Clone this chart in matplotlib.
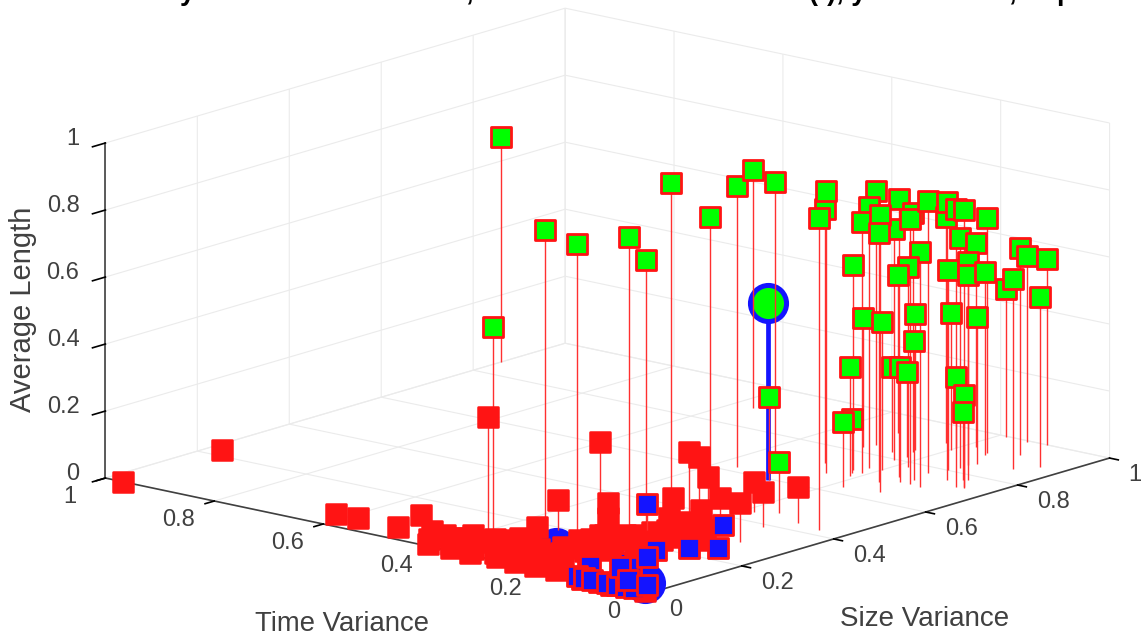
import numpy as np
import matplotlib
matplotlib.use('Agg')
import matplotlib.pyplot as plt
from matplotlib.markers import MarkerStyle

# tall points: size variance, time variance, average length
green_size = [0.860, 0.155, 0.141, 0.209, 0.246, 0.356, 0.456, 0.622, 0.891, 0.644, 0.595, 0.462, 0.107,
              0.719, 0.677, 0.425, 0.715, 0.843, 0.738, 0.710, 0.796, 0.726, 0.847, 0.645, 0.687, 0.706,
              0.770, 0.703, 0.778, 0.915, 0.823, 0.741, 0.857, 0.727, 0.687, 0.828, 0.706, 0.821, 0.701,
              0.633, 0.916, 0.757, 0.735, 0.738, 0.909, 0.821, 0.926, 0.801, 0.842, 0.777, 0.900, 0.996,
              0.865, 0.931, 0.994, 0.999, 0.898, 0.890, 0.853, 0.903, 0.743, 0.772]
green_time = [0.999, 0.323, 0.253, 0.215, 0.215, 0.261, 0.274, 0.365, 0.563, 0.314, 0.284, 0.153, 0.379,
              0.286, 0.248, 0.049, 0.230, 0.297, 0.221, 0.210, 0.223, 0.156, 0.232, 0.121, 0.159, 0.119,
              0.139, 0.097, 0.182, 0.316, 0.304, 0.199, 0.237, 0.129, 0.212, 0.255, 0.136, 0.220, 0.220,
              0.179, 0.229, 0.094, 0.059, 0.046, 0.149, 0.124, 0.182, 0.129, 0.126, 0.071, 0.145, 0.187,
              0.063, 0.107, 0.147, 0.114, 0.042, 0.199, 0.120, 0.200, 0.050, 0.077]
green_len = [0.672, 0.910, 0.899, 0.904, 0.821, 0.991, 0.845, 0.839, 0.710, 0.860, 0.248, 0.152, 0.621,
             0.758, 0.842, 0.931, 0.612, 0.758, 0.779, 0.749, 0.690, 0.830, 0.713, 0.827, 0.743, 0.791,
             0.812, 0.701, 0.597, 0.472, 0.385, 0.442, 0.406, 0.415, 0.325, 0.254, 0.343, 0.254, 0.161,
             0.194, 0.675, 0.830, 0.830, 0.830, 0.701, 0.687, 0.609, 0.597, 0.606, 0.612, 0.546, 0.442,
             0.567, 0.618, 0.555, 0.555, 0.507, 0.409, 0.439, 0.212, 0.275, 0.203]

# short points, most of them flat on the floor
red_size = [0.000, 0.227, 0.055, 0.058, 0.055, 0.128, 0.069, 0.064, 0.064, 0.072, 0.079, 0.101, 0.054, 0.182,
            0.098, 0.069, 0.117, 0.164, 0.130, 0.205, 0.227, 0.198, 0.010, 0.012, 0.010, 0.015,
            0.012, 0.010, 0.012, 0.273, 0.287, 0.298, 0.321, 0.333,
            0.03, 0.03, 0.03, 0.03, 0.03, 0.03, 0.03,
            0.06, 0.06, 0.06, 0.06, 0.06, 0.06,
            0.09, 0.09, 0.09, 0.09, 0.09,
            0.12, 0.12, 0.12,
            0.15, 0.15,
            0.18, 0.18, 0.18,
            0.21, 0.21, 0.24, 0.24, 0.27, 0.27,
            0.124, 0.334, 0.187, 0.350, 0.424, 0.368, 0.249, 0.444, 0.387, 0.302, 0.437, 0.335, 0.255,
            0.169, 0.275, 0.250, 0.225, 0.187]
red_time = [0.967, 0.977, 0.622, 0.585, 0.509, 0.528, 0.458, 0.430, 0.403, 0.377, 0.350, 0.342, 0.293, 0.360,
            0.303, 0.250, 0.255, 0.268, 0.220, 0.264, 0.238, 0.186, 0.415, 0.376, 0.339, 0.294,
            0.257, 0.220, 0.183, 0.140, 0.210, 0.181, 0.170, 0.226,
            0.43, 0.39, 0.35, 0.31, 0.27, 0.23, 0.19,
            0.41, 0.37, 0.33, 0.29, 0.25, 0.21,
            0.40, 0.36, 0.32, 0.28, 0.24,
            0.34, 0.26, 0.22,
            0.24, 0.20,
            0.26, 0.22, 0.18,
            0.26, 0.22, 0.22, 0.18, 0.20, 0.17,
            0.402, 0.373, 0.327, 0.224, 0.267, 0.203, 0.168, 0.183, 0.119, 0.089, 0.097, 0.154, 0.292,
            0.220, 0.138, 0.125, 0.154, 0.154]
red_len = [0.0] * 66 + [0.337, 0.188, 0.090, 0.203, 0.143, 0.128, 0.125, 0.090, 0.104, 0.116, 0.107, 0.096, 0.066,
                        0.081, 0.090, 0.066, 0.081, 0.054]

# this one sits in front of the blue squares near the corner
red_front_size = [0.005]
red_front_time = [0.013]
red_front_len = [0.0]

# blue squares near the corner, partly hidden
blue_low_size = [0.052, 0.106, 0.000, 0.000, 0.000]
blue_low_time = [0.157, 0.136, 0.093, 0.125, 0.072]
blue_low_len = [0.0, 0.0, 0.0, 0.0, 0.0]

# overlapping run along the time axis, only thin strips of each stay visible
blue_mid_size = [0.060, 0.095, 0.005, 0.005, 0.005, 0.005, 0.005, 0.005, 0.005]
blue_mid_time = [0.160, 0.115, 0.138, 0.125, 0.110, 0.083, 0.064, 0.048, 0.033]
blue_mid_len = [0.0, 0.0, 0.0, 0.0, 0.0, 0.0, 0.0, 0.0, 0.0]

blue_top_size = [0.268, 0.316, 0.256, 0.229, 0.191, 0.152, 0.085, 0.036, 0.031]
blue_top_time = [0.232, 0.133, 0.091, 0.122, 0.149, 0.134, 0.127, 0.070, 0.032]
blue_top_len = [0.078, 0.030, 0.0, 0.0, 0.0, 0.0, 0.0, 0.0, 0.0]

# large circles
big_size = [0.594]
big_time = [0.285]
big_len = [0.528]
big_low_size = [0.109, 0.038]
big_low_time = [0.264, 0.041]
big_low_len = [0.0, 0.0]

ticks = [0, 0.2, 0.4, 0.6, 0.8, 1]
tick_labels = ['0', '0.2', '0.4', '0.6', '0.8', '1']
# only the bottoms of the title glyphs are left in the picture
title_bits = ['y', ',', '(t), y', ',', 'p']
title_px = [180, 465, 809, 1008, 1056]

gray = '#404040'
red = '#ff1414'
blue = '#1414ff'
lime = '#00ff00'
thin = '#ff3030'

plt.rcParams['font.family'] = ['Liberation Sans', 'DejaVu Sans']

W, H, P = 1143, 639, 1034
fig = plt.figure(figsize=(W / 100, H / 100), dpi=100)
ax = fig.add_subplot(111, projection='3d', proj_type='ortho', computed_zorder=False)
ax.set_position([76.5 / W, -192.5 / H, P / W, P / H])
ax.set_box_aspect((711, 714, 346))
ax.view_init(elev=14.4, azim=220.3)


def stem3(xs, ys, zs, face, edge, stem, marker, size, edgew, stemw, z):
    marks, lines, base = ax.stem(xs, ys, zs, linefmt='-', markerfmt='s', basefmt=' ')
    lines.set_color(stem)
    lines.set_linewidth(stemw)
    lines.set_zorder(z)
    marks.set_marker(MarkerStyle(marker, joinstyle='round'))
    marks.set_markersize(size)
    marks.set_markerfacecolor(face)
    marks.set_markeredgecolor(edge)
    marks.set_markeredgewidth(edgew)
    marks.set_zorder(z + 0.05)


stem3(green_size, green_time, green_len, lime, red, thin, 's', 13.8, 2.0, 1.0, 3)
stem3(big_size, big_time, big_len, lime, blue, blue, 'o', 26, 3.6, 3.4, 2)
stem3(big_low_size, big_low_time, big_low_len, blue, blue, blue, 'o', 26, 3.6, 3.4, 4)
stem3(blue_low_size, blue_low_time, blue_low_len, blue, red, thin, 's', 14, 2.0, 1.0, 5)
stem3(red_size, red_time, red_len, red, red, thin, 's', 14.5, 1.8, 1.0, 6)
stem3(red_front_size, red_front_time, red_front_len, red, red, thin, 's', 14.5, 1.8, 1.0, 6.2)
stem3(blue_mid_size, blue_mid_time, blue_mid_len, blue, red, thin, 's', 14, 2.0, 1.0, 6.4)
stem3(blue_top_size, blue_top_time, blue_top_len, blue, red, thin, 's', 14, 2.0, 1.0, 7)

ax.set_xlim(0, 1, view_margin=0)
ax.set_ylim(0, 1, view_margin=0)
ax.set_zlim(0, 1, view_margin=0)

for axis, tick_len in zip((ax.xaxis, ax.yaxis, ax.zaxis), (0.2, 0.25, 0.35)):
    axis.set_ticks(ticks)
    axis.set_ticklabels([])
    axis.set_pane_color((1, 1, 1, 0))
    axis.pane.set_edgecolor((1, 1, 1, 0))
    axis.line.set_color(gray)
    axis.line.set_linewidth(1.2)
    axis._axinfo['grid']['color'] = '#ebebeb'
    axis._axinfo['grid']['linewidth'] = 0.8
    axis._axinfo['tick']['inward_factor'] = tick_len
    axis._axinfo['tick']['outward_factor'] = 0.0
    axis._axinfo['tick']['color'] = gray
    axis._axinfo['tick']['linewidth'] = {True: 1.2, False: 0.5}

# MATLAB style tick labels, set just off the box edges
for v, lab in zip(ticks, tick_labels):
    ax.text(-0.078, v, -0.025, lab, fontsize=17, color=gray, ha='center', va='center')
    ax.text(v, -0.035, -0.039, lab, fontsize=17, color=gray, ha='left', va='center')
    ax.text(-0.0565, 1, v + 0.035, lab, fontsize=17, color=gray, ha='right', va='center')

fig.text(342 / W, 1 - 624 / H, 'Time Variance', fontsize=19.8, color=gray, ha='center', va='center')
fig.text(925 / W, 1 - 619 / H, 'Size Variance', fontsize=20, color=gray, ha='center', va='center')
fig.text(23 / W, 1 - 309 / H, 'Average Length', fontsize=21, color=gray, ha='center', va='center', rotation=90)

for bit, px in zip(title_bits, title_px):
    fig.text(px / W, 1.0, bit, fontsize=19.5, fontweight='bold', color='black', ha='left', va='baseline')

fig.savefig('out.png', dpi=100)
